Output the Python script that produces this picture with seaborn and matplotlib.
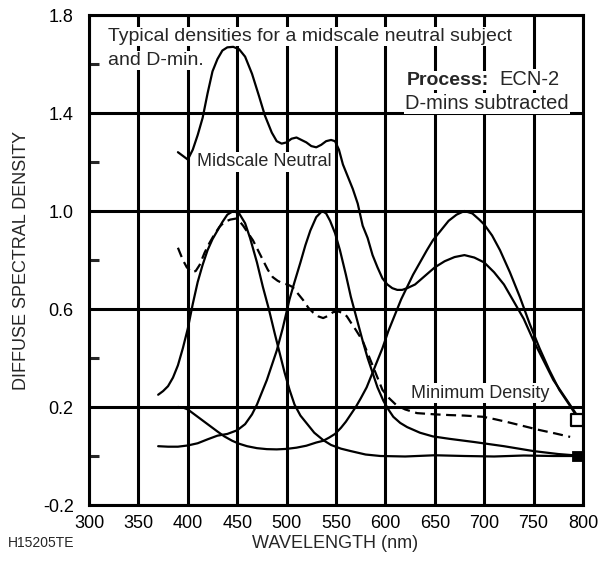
import pandas as pd
import matplotlib.pyplot as plt
import seaborn as sns

# --- data ---
neutral_nm = [390, 400, 405, 410, 415, 420, 425, 430, 435, 440, 446, 452, 458, 465, 472, 478,
              485, 490, 495, 500, 505, 510, 515, 520, 525, 530, 535, 540, 545, 549, 553, 557,
              562, 567, 572, 577, 582, 587, 592, 597, 602, 607, 612, 617, 622, 630, 640, 650,
              660, 670, 680, 690, 700, 710, 720, 730, 740, 750, 760, 770, 780, 790, 800]
neutral_d = [1.24, 1.21, 1.25, 1.31, 1.38, 1.48, 1.57, 1.62, 1.655, 1.668, 1.67, 1.66, 1.63, 1.56,
             1.47, 1.39, 1.32, 1.285, 1.275, 1.28, 1.295, 1.30, 1.29, 1.28, 1.265, 1.26, 1.27,
             1.285, 1.29, 1.285, 1.25, 1.19, 1.14, 1.09, 1.03, 0.94, 0.89, 0.82, 0.77, 0.725,
             0.70, 0.685, 0.678, 0.678, 0.685, 0.70, 0.735, 0.77, 0.795, 0.812, 0.82, 0.81,
             0.79, 0.75, 0.70, 0.63, 0.56, 0.47, 0.39, 0.31, 0.25, 0.19, 0.13]

yellow_nm = [370, 375, 380, 385, 390, 395, 400, 405, 410, 415, 420, 425, 430, 435, 440, 446,
             452, 458, 463, 470, 476, 482, 488, 493, 498, 503, 508, 514, 520, 528, 537, 545,
             555, 565, 580, 595, 620, 650, 680, 710, 740, 770, 800]
yellow_d = [0.25, 0.265, 0.285, 0.32, 0.37, 0.44, 0.52, 0.62, 0.71, 0.78, 0.84, 0.885, 0.92,
            0.955, 0.985, 1.0, 0.99, 0.95, 0.89, 0.79, 0.69, 0.60, 0.50, 0.42, 0.34, 0.27, 0.21,
            0.165, 0.135, 0.095, 0.065, 0.045, 0.03, 0.02, 0.006, 0.0, -0.002, 0.003, 0.0,
            -0.002, 0.002, 0.0, 0.0]

magenta_nm = [370, 380, 390, 400, 410, 420, 430, 440, 450, 458, 465, 470, 475, 480, 485, 490,
              496, 503, 508, 514, 519, 524, 530, 536, 540, 544, 549, 554, 560, 565, 571, 577,
              582, 587, 592, 598, 603, 608, 615, 622, 635, 648, 665, 690, 720, 750, 775, 800]
magenta_d = [0.04, 0.038, 0.038, 0.043, 0.052, 0.068, 0.083, 0.09, 0.105, 0.13, 0.17, 0.21,
             0.26, 0.31, 0.37, 0.43, 0.52, 0.64, 0.71, 0.79, 0.86, 0.92, 0.975, 1.0, 0.99, 0.96,
             0.91, 0.84, 0.74, 0.65, 0.56, 0.47, 0.40, 0.34, 0.28, 0.225, 0.19, 0.16, 0.135,
             0.118, 0.095, 0.08, 0.07, 0.057, 0.04, 0.02, 0.008, 0.0]

cyan_nm = [390, 395, 400, 405, 410, 415, 420, 425, 430, 437, 445, 452, 460, 470, 480, 490, 500,
           510, 520, 530, 537, 543, 549, 555, 560, 565, 570, 575, 581, 587, 592, 597, 603, 610,
           616, 622, 628, 635, 642, 648, 656, 664, 672, 680, 688, 695, 700, 708, 716, 726, 736,
           746, 756, 766, 776, 786, 794, 800]
cyan_d = [0.20, 0.198, 0.19, 0.175, 0.16, 0.145, 0.13, 0.115, 0.10, 0.08, 0.062, 0.05, 0.04,
          0.032, 0.028, 0.027, 0.029, 0.034, 0.042, 0.055, 0.062, 0.075, 0.09, 0.115, 0.14, 0.17,
          0.20, 0.235, 0.28, 0.34, 0.39, 0.44, 0.51, 0.58, 0.64, 0.69, 0.74, 0.79, 0.84, 0.88,
          0.92, 0.96, 0.985, 1.0, 0.99, 0.965, 0.945, 0.90, 0.84, 0.75, 0.65, 0.54, 0.44, 0.35,
          0.27, 0.21, 0.16, 0.12]

dmin_nm = [390, 395, 399, 404, 408, 412, 417, 422, 427, 432, 437, 443, 450, 456, 461, 466, 471,
           476, 481, 486, 491, 496, 501, 506, 511, 517, 522, 527, 532, 537, 542, 547, 552, 557,
           561, 565, 570, 577, 583, 590, 597, 604, 611, 620, 632, 650, 665, 680, 699, 711, 723,
           740, 756, 772, 787]
dmin_d = [0.85, 0.80, 0.77, 0.75, 0.755, 0.78, 0.83, 0.87, 0.905, 0.935, 0.955, 0.965, 0.97,
          0.94, 0.91, 0.88, 0.84, 0.80, 0.76, 0.73, 0.715, 0.705, 0.70, 0.69, 0.665, 0.635,
          0.605, 0.585, 0.57, 0.563, 0.572, 0.587, 0.59, 0.584, 0.57, 0.545, 0.515, 0.47, 0.41,
          0.34, 0.27, 0.235, 0.208, 0.19, 0.175, 0.17, 0.167, 0.165, 0.16, 0.15, 0.139, 0.122,
          0.106, 0.092, 0.078]

# end markers at 800 nm side
open_mark = {"nm": [794], "d": [0.147]}
filled_mark = {"nm": [794], "d": [0.0]}

x_ticks = [300, 350, 400, 450, 500, 550, 600, 650, 700, 750, 800]
y_ticks = [-0.2, 0.2, 0.6, 1.0, 1.4, 1.8]
y_minor = [0.0, 0.4, 0.8, 1.2, 1.6]

# --- style ---
sns.set_theme(style="white")
plt.rcParams['font.family'] = ['Liberation Sans', 'DejaVu Sans']
LW_GRID = 2.2
FS = 13

fig = plt.figure(figsize=(6.09, 5.75), dpi=100)
ax = fig.add_axes([89 / 609, 1 - 505 / 575, (583 - 89) / 609, (505 - 15) / 575])

curves = [(neutral_nm, neutral_d), (yellow_nm, yellow_d), (magenta_nm, magenta_d), (cyan_nm, cyan_d)]
for nm, d in curves:
    df = pd.DataFrame({"nm": nm, "d": d})
    sns.lineplot(data=df, x="nm", y="d", ax=ax, color="black", lw=1.6, sort=False,
                 estimator=None, zorder=3)

df_dmin = pd.DataFrame({"nm": dmin_nm, "d": dmin_d})
sns.lineplot(data=df_dmin, x="nm", y="d", ax=ax, color="black", lw=1.6, sort=False,
             estimator=None, zorder=3, linestyle=(0, (4.5, 2.5)))

sns.scatterplot(data=pd.DataFrame(open_mark), x="nm", y="d", ax=ax, marker="s", s=80,
                facecolor="white", edgecolor="black", linewidth=1.6, zorder=4)
sns.scatterplot(data=pd.DataFrame(filled_mark), x="nm", y="d", ax=ax, marker="s", s=55,
                color="black", edgecolor="black", zorder=4)

# axes, grid
ax.set_xlim(300, 800)
ax.set_ylim(-0.2, 1.8)
ax.set_xticks(x_ticks)
ax.set_xticklabels([str(v) for v in x_ticks])
ax.set_yticks(y_ticks)
ax.set_yticklabels([f"{v:.1f}" for v in y_ticks])
ax.set_yticks(y_minor, minor=True)
ax.tick_params(axis="both", which="major", length=0, labelsize=FS, colors="black")
ax.tick_params(axis="x", which="major", pad=7)
ax.tick_params(axis="y", which="major", pad=11)
ax.tick_params(axis="y", which="minor", direction="in", length=7, width=LW_GRID, left=True)
ax.grid(True, color="black", lw=LW_GRID)
ax.set_axisbelow(True)
for sp in ax.spines.values():
    sp.set_color("black")
    sp.set_linewidth(LW_GRID)
ax.set_xlabel("")
ax.set_ylabel("")

# annotations
box = dict(facecolor="white", edgecolor="none", pad=1)
ax.text(319, 1.694, "Typical densities for a midscale neutral subject", fontsize=14,
        va="baseline", bbox=box, zorder=2)
ax.text(319, 1.596, "and D-min.", fontsize=14, va="baseline", bbox=box, zorder=2)
ax.text(622, 1.514, "Process:", fontsize=14, fontweight="bold", va="baseline", bbox=box, zorder=2)
ax.text(715, 1.514, "ECN-2", fontsize=14.5, va="baseline", bbox=box, zorder=2)
ax.text(620, 1.416, "D-mins subtracted", fontsize=14.5, va="baseline", bbox=box, zorder=2)
ax.text(477.6, 1.2, "Midscale Neutral", fontsize=FS, ha="center", va="center", bbox=box, zorder=2)
ax.text(695.7, 0.257, "Minimum Density", fontsize=FS, ha="center", va="center", bbox=box, zorder=2)

fig.text(22 / 609, 1 - 260 / 575, "DIFFUSE SPECTRAL DENSITY", rotation=90, ha="center",
         va="center", fontsize=FS)
fig.text(335 / 609, 1 - 543 / 575, "WAVELENGTH (nm)", ha="center", va="center", fontsize=FS)
fig.text(41 / 609, 1 - 543 / 575, "H15205TE", ha="center", va="center", fontsize=10)

fig.savefig("out.png", dpi=100)
